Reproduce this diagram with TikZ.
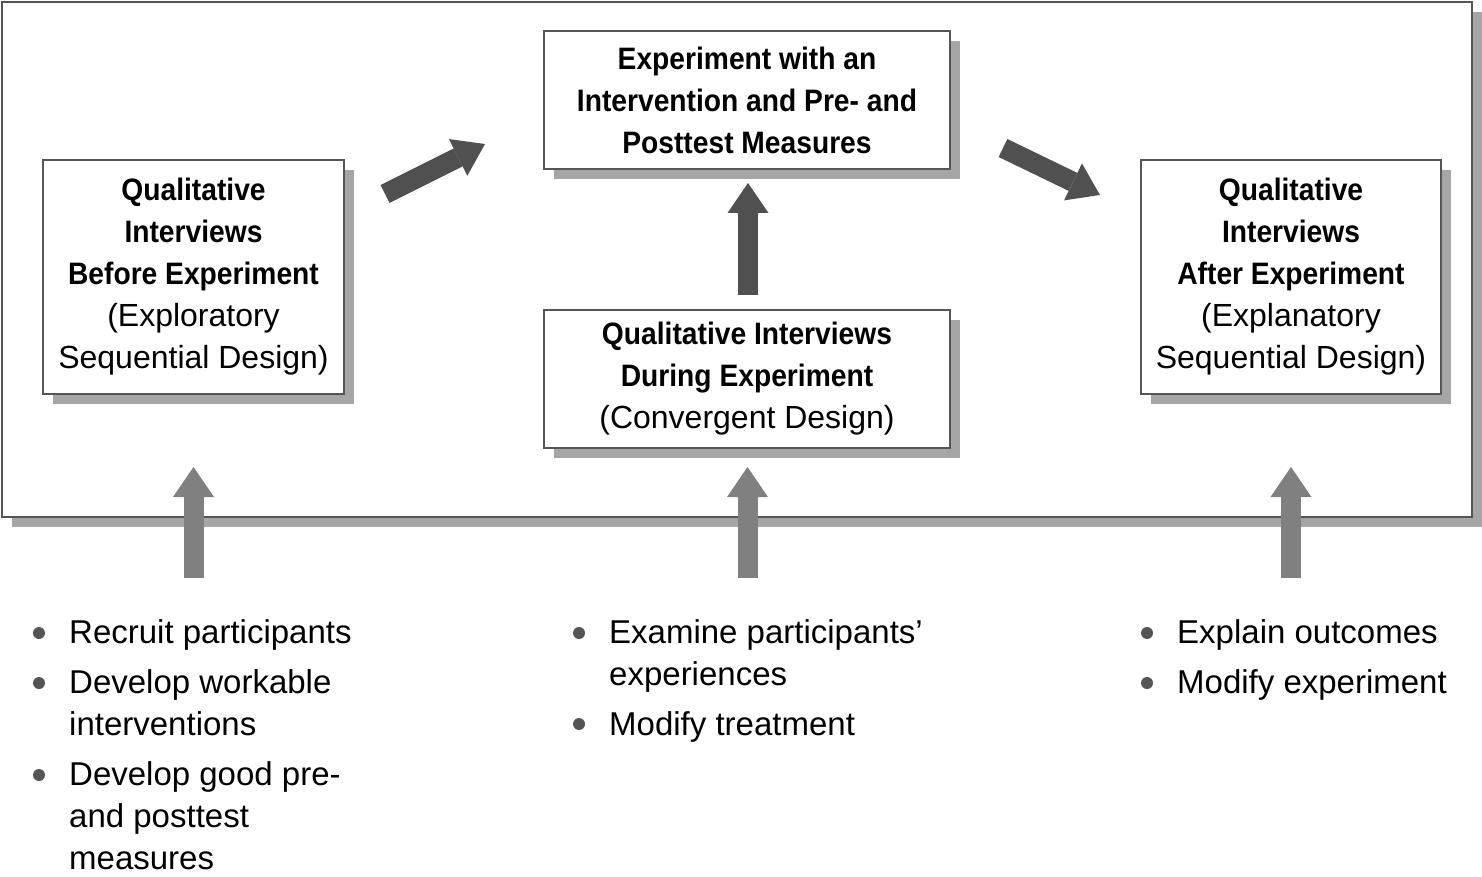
\documentclass[tikz,border=0pt]{standalone}
\usepackage{fontspec}
\setmainfont{Liberation Sans}
\newfontfamily\headfont{Liberation Sans}[FakeStretch=0.91]
\usetikzlibrary{arrows.meta,shadows}
\definecolor{edgegray}{HTML}{555555}
\definecolor{shadegray}{HTML}{A6A6A6}
\definecolor{darkarrow}{HTML}{505050}
\definecolor{lightarrow}{HTML}{808080}
\definecolor{dotgray}{HTML}{555555}
\newcommand{\boldline}[1]{{\headfont\bfseries\fontsize{31}{42}\selectfont #1}}
\tikzset{
  shadowed/.style={general shadow={fill=shadegray, shadow xshift=10pt, shadow yshift=-10pt}},
  panel/.style={draw=edgegray, line width=2pt, fill=white, shadowed, inner sep=0pt},
  stagebox/.style={panel, align=center, font=\fontsize{32}{42}\selectfont},
  fatarrow/.style={line width=20pt, -{Triangle[length=30pt,width=41pt,line width=0pt]}},
  darkfat/.style={fatarrow, draw=darkarrow},
  lightfat/.style={fatarrow, draw=lightarrow},
  itemtext/.style={anchor=base west, inner sep=0pt, font=\fontsize{33}{42}\selectfont},
  bulletdot/.style={circle, fill=dotgray, inner sep=0pt, minimum size=12pt},
}
\begin{document}
\begin{tikzpicture}[x=1pt,y=-1pt]
\useasboundingbox (0,0) rectangle (1482,877);
% outer frame
\node[panel, minimum width=1470pt, minimum height=515pt] (frame) at (737,259.5) {};
% stage boxes
\node[stagebox, minimum width=301pt, minimum height=234pt] (before) at (193.5,277)
  {\boldline{Qualitative}\\ \boldline{Interviews}\\ \boldline{Before Experiment}\\ (Exploratory\hspace*{10pt}\\ Sequential Design)};
\node[stagebox, minimum width=406pt, minimum height=138pt] (exper) at (747,100)
  {\boldline{Experiment with an}\\ \boldline{Intervention and Pre- and}\\ \boldline{Posttest Measures}};
\node[stagebox, minimum width=406pt, minimum height=138pt] (during) at (747,379)
  {\boldline{Qualitative Interviews}\\ \boldline{During Experiment}\\ (Convergent Design)};
\node[stagebox, minimum width=300pt, minimum height=234pt] (after) at (1291,277)
  {\boldline{Qualitative}\\ \boldline{Interviews}\\ \boldline{After Experiment}\\ (Explanatory\hspace*{10pt}\\ Sequential Design)};
% arrow end points
\coordinate (d1s) at (385,194);  \coordinate (d1e) at (485,144);
\coordinate (d2s) at (1003,148); \coordinate (d2e) at (1100,195);
\coordinate (d3s) at (748,295);  \coordinate (d3e) at (748,183);
\coordinate (l1s) at (193.5,578); \coordinate (l1e) at (193.5,467);
\coordinate (l2s) at (747.5,578); \coordinate (l2e) at (747.5,467);
\coordinate (l3s) at (1291,578);  \coordinate (l3e) at (1291,467);
\draw[darkfat] (d1s) -- (d1e);
\draw[darkfat] (d2s) -- (d2e);
\draw[darkfat] (d3s) -- (d3e);
\draw[lightfat] (l1s) -- (l1e);
\draw[lightfat] (l2s) -- (l2e);
\draw[lightfat] (l3s) -- (l3e);
% left list
\node[bulletdot] (b11) at (39,633) {};
\node[bulletdot] (b12) at (39,683) {};
\node[bulletdot] (b13) at (39,775) {};
\node[itemtext] (t11) at (69,643) {Recruit participants};
\node[itemtext] (t12) at (69,693) {Develop workable};
\node[itemtext] (t13) at (69,735) {interventions};
\node[itemtext] (t14) at (69,785) {Develop good pre-};
\node[itemtext] (t15) at (69,827) {and posttest};
\node[itemtext] (t16) at (69,869) {measures};
% center list
\node[bulletdot] (b21) at (579,633) {};
\node[bulletdot] (b22) at (579,724) {};
\node[itemtext] (t21) at (609,643) {Examine participants’};
\node[itemtext] (t22) at (609,685) {experiences};
\node[itemtext] (t23) at (609,735) {Modify treatment};
% right list
\node[bulletdot] (b31) at (1147,633) {};
\node[bulletdot] (b32) at (1147,683) {};
\node[itemtext] (t31) at (1177,643) {Explain outcomes};
\node[itemtext] (t32) at (1177,693) {Modify experiment};
\end{tikzpicture}
\end{document}
